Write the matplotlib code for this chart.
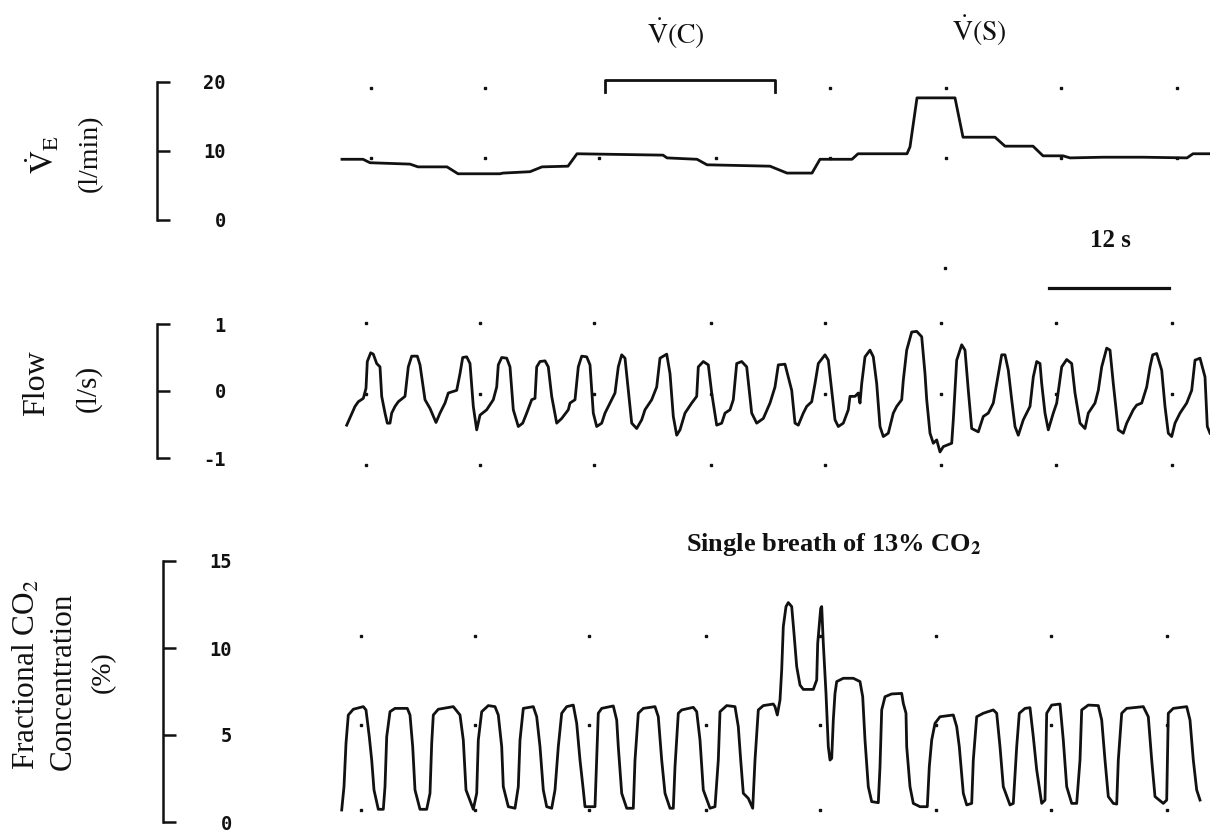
import matplotlib

matplotlib.use("Agg")
import matplotlib.pyplot as plt  # noqa: E402

plt.rcParams["font.family"] = ["Liberation Serif", "DejaVu Serif"]
plt.rcParams["mathtext.fontset"] = "stix"

INK = "#111111"
TICK_FONT = {"family": "DejaVu Sans Mono", "weight": "bold", "size": 13.5}

# Minute ventilation, l/min (time in s)
ve_t = [0.2, 2.3, 3.0, 7.0, 7.8, 10.7, 11.8, 16.0, 16.3, 19.0, 20.2, 22.8, 23.7,
        32.3, 32.7, 35.7, 36.7, 43.0, 44.7, 47.2, 48.0, 51.2, 51.8, 56.7, 57.0,
        57.7, 61.5, 62.3, 65.5, 66.5, 69.3, 70.3, 72.3, 73.0, 76.3, 80.3, 84.7,
        85.3, 87.0]
ve_val = [8.8, 8.8, 8.3, 8.1, 7.7, 7.7, 6.7, 6.7, 6.8, 7.0, 7.7, 7.8, 9.6,
          9.4, 9.0, 8.8, 8.0, 7.8, 6.8, 6.8, 8.8, 8.8, 9.6, 9.6, 10.6,
          17.7, 17.7, 12.0, 12.0, 10.7, 10.7, 9.3, 9.3, 9.0, 9.1, 9.1, 9.0,
          9.6, 9.6]

# Flow, l/s
flow_t = [0.67, 1.5, 1.83, 2.33, 2.6, 2.73, 3.07, 3.33, 3.67, 4.0, 4.17, 4.5, 4.73,
          5.0, 5.17, 5.5, 5.83, 6.5, 6.83, 7.17, 7.73, 8.0, 8.27, 8.5, 9.0, 9.6,
          10.0, 10.5, 10.83, 11.67, 12.0, 12.27, 12.67, 13.0, 13.33, 13.67, 14.0,
          14.67, 15.33, 15.67, 15.83, 16.17, 16.67, 17.0, 17.33, 17.83, 18.27,
          18.67, 19.17, 19.5, 19.67, 20.0, 20.5, 20.83, 21.17, 21.67, 22.17,
          22.83, 23.0, 23.5, 23.83, 24.17, 24.67, 25.0, 25.33, 25.67, 26.17, 26.5,
          27.17, 27.5, 27.83, 28.17, 28.5, 28.83, 29.17, 29.67, 30.17, 30.5,
          31.17, 31.67, 32.0, 32.67, 33.0, 33.33, 33.67, 34.0, 34.5, 35.17,
          35.67, 35.83, 36.33, 36.83, 37.17, 37.67, 38.17, 38.5, 39.0, 39.33,
          39.67, 40.17, 40.67, 41.17, 41.67, 42.33, 43.0, 43.5, 43.83, 44.5,
          44.83, 45.17, 45.5, 45.83, 46.33, 46.67, 47.17, 47.5, 47.83, 48.5,
          48.83, 49.17, 49.5, 49.83, 50.33, 50.83, 51.0, 51.5, 51.83, 52.0,
          52.17, 52.5, 53.0, 53.33, 53.67, 54.0, 54.33, 54.83, 55.33, 55.67,
          56.17, 56.33, 56.67, 57.17, 57.67, 58.17, 58.5, 58.67, 59.0, 59.33,
          59.67, 60.0, 60.33, 61.17, 61.33, 61.67, 62.17, 62.5, 62.83, 63.17,
          63.83, 64.33, 64.83, 65.33, 65.67, 66.17, 66.5, 66.83, 67.17, 67.5,
          67.83, 68.33, 69.0, 69.33, 69.67, 70.0, 70.17, 70.5, 70.83, 71.33,
          71.67, 72.17, 72.67, 73.17, 73.5, 74.0, 74.5, 74.83, 75.5, 75.83,
          76.17, 76.67, 77.0, 77.33, 77.83, 78.33, 78.67, 79.33, 79.67, 80.17,
          80.67, 81.0, 81.27, 81.67, 82.17, 82.5, 82.83, 83.17, 83.5, 84.0,
          84.67, 85.17, 85.5, 86.0, 86.5, 86.73, 87.0]
flow_val = [-0.51, -0.23, -0.16, -0.11, 0.04, 0.44, 0.57, 0.55, 0.41, 0.36, -0.08,
            -0.33, -0.48, -0.48, -0.33, -0.23, -0.16, -0.08, 0.36, 0.52, 0.52,
            0.39, 0.11, -0.13, -0.26, -0.47, -0.33, -0.18, -0.03, 0.01, 0.26,
            0.50, 0.51, 0.41, -0.23, -0.58, -0.36, -0.28, -0.13, 0.06, 0.39,
            0.50, 0.49, 0.36, -0.28, -0.53, -0.48, -0.33, -0.13, -0.11, 0.36,
            0.44, 0.45, 0.36, -0.08, -0.48, -0.41, -0.28, -0.18, -0.13, 0.36,
            0.52, 0.51, 0.39, -0.33, -0.53, -0.48, -0.33, -0.13, -0.03, 0.36,
            0.54, 0.49, 0.01, -0.48, -0.56, -0.43, -0.28, -0.13, 0.06, 0.49,
            0.55, 0.26, -0.38, -0.66, -0.58, -0.33, -0.18, -0.08, 0.36, 0.44,
            0.39, -0.03, -0.51, -0.48, -0.33, -0.28, -0.13, 0.41, 0.44, 0.36,
            -0.33, -0.48, -0.41, -0.18, 0.06, 0.39, 0.40, 0.21, 0.01, -0.48,
            -0.51, -0.33, -0.23, -0.16, 0.11, 0.41, 0.54, 0.46, 0.01, -0.43,
            -0.53, -0.48, -0.28, -0.08, -0.08, -0.03, -0.18, 0.11, 0.51, 0.61,
            0.51, 0.11, -0.53, -0.68, -0.63, -0.33, -0.23, -0.13, 0.16, 0.61,
            0.88, 0.89, 0.81, 0.26, -0.13, -0.63, -0.78, -0.73, -0.91, -0.83,
            -0.78, -0.43, 0.46, 0.69, 0.61, 0.01, -0.56, -0.61, -0.38, -0.33,
            -0.18, 0.11, 0.54, 0.54, 0.31, -0.13, -0.53, -0.66, -0.43, -0.23,
            0.21, 0.44, 0.41, 0.11, -0.33, -0.58, -0.33, -0.18, 0.36, 0.47,
            0.41, -0.03, -0.48, -0.56, -0.33, -0.18, 0.01, 0.36, 0.64, 0.61,
            0.11, -0.58, -0.63, -0.48, -0.28, -0.21, -0.18, 0.06, 0.36, 0.54,
            0.56, 0.31, -0.23, -0.63, -0.68, -0.48, -0.33, -0.18, 0.01, 0.46,
            0.49, 0.21, -0.53, -0.63]

# Fractional CO2 concentration, %
co2_t = [0.17, 0.4, 0.6, 0.83, 1.33, 2.33, 2.6, 2.93, 3.17, 3.4, 3.83, 4.33, 4.5,
         4.67, 5.0, 5.5, 6.73, 7.0, 7.27, 7.5, 8.0, 8.67, 9.0, 9.17, 9.33, 9.83,
         11.33, 12.0, 12.33, 12.6, 13.33, 13.67, 13.83, 14.17, 14.83, 15.5,
         15.83, 16.17, 16.33, 16.83, 17.5, 17.83, 18.0, 18.33, 19.33, 19.67,
         20.0, 20.33, 20.67, 21.17, 21.5, 21.83, 22.17, 22.67, 23.33, 23.67,
         24.0, 24.33, 24.5, 25.5, 25.67, 25.83, 26.17, 27.33, 27.67, 27.83,
         28.17, 28.67, 29.33, 29.5, 29.83, 30.33, 31.5, 31.83, 32.17, 32.5,
         33.0, 33.33, 33.5, 33.83, 34.17, 35.33, 35.67, 36.0, 36.33, 37.0,
         37.5, 37.83, 38.0, 38.67, 39.5, 39.83, 40.07, 40.33, 40.83, 41.27,
         41.5, 41.83, 42.33, 43.33, 43.5, 43.73, 44.0, 44.17, 44.33, 44.6,
         44.83, 45.17, 45.4, 45.67, 46.0, 46.33, 47.33, 47.67, 47.77, 47.93,
         48.07, 48.17, 48.33, 48.6, 48.83, 49.0, 49.17, 49.33, 49.5, 49.67,
         50.33, 51.33, 52.0, 52.27, 52.5, 52.83, 53.17, 53.83, 54.0, 54.17,
         54.5, 55.17, 56.17, 56.33, 56.6, 56.67, 57.0, 57.33, 58.0, 58.73,
         58.93, 59.17, 59.5, 60.0, 61.33, 61.67, 61.93, 62.33, 62.67, 63.17,
         63.33, 63.67, 64.33, 65.33, 65.67, 66.0, 66.33, 67.0, 67.33, 67.67,
         67.93, 68.5, 69.0, 69.33, 69.67, 70.17, 70.5, 70.67, 71.17, 72.0,
         72.33, 72.67, 73.17, 73.67, 74.0, 74.17, 74.83, 75.83, 76.17, 76.5,
         76.83, 77.33, 77.67, 77.83, 78.17, 78.67, 80.33, 80.83, 81.17, 81.5,
         82.33, 82.67, 82.83, 83.33, 84.67, 85.0, 85.33, 85.67, 86.0]
co2_val = [0.69, 2.03, 4.52, 6.15, 6.48, 6.63, 6.44, 4.90, 3.56, 1.84, 0.73, 0.73,
           2.03, 4.90, 6.34, 6.53, 6.53, 6.15, 4.33, 1.84, 0.73, 0.73, 1.65, 4.52,
           6.15, 6.48, 6.63, 6.15, 4.71, 1.84, 0.73, 1.65, 4.71, 6.34, 6.69,
           6.63, 6.15, 4.33, 2.03, 0.88, 0.79, 2.03, 4.71, 6.53, 6.63, 6.05,
           4.33, 1.84, 0.88, 0.79, 1.84, 4.33, 6.25, 6.63, 6.72, 5.67, 3.56,
           1.84, 0.88, 0.88, 3.56, 6.25, 6.53, 6.67, 5.86, 4.33, 1.65, 0.79,
           0.79, 3.56, 6.25, 6.53, 6.63, 6.05, 3.56, 1.65, 0.79, 0.79, 3.18,
           6.25, 6.44, 6.59, 6.34, 4.71, 1.84, 0.79, 0.88, 3.56, 6.34, 6.69,
           6.63, 5.48, 3.56, 1.65, 1.36, 0.79, 3.56, 6.44, 6.69, 6.78, 6.63,
           6.15, 7.01, 8.74, 11.23, 12.38, 12.61, 12.38, 10.84, 8.93, 7.87,
           7.62, 7.62, 8.16, 10.27, 11.32, 12.28, 12.38, 10.27, 7.39, 4.33,
           3.56, 3.66, 5.86, 7.39, 8.07, 8.26, 8.26, 8.07, 7.20, 4.71, 2.03,
           1.17, 1.11, 3.18, 6.44, 7.20, 7.36, 7.39, 6.82, 6.25, 4.33, 2.03,
           1.07, 0.88, 0.88, 3.18, 4.71, 5.67, 6.05, 6.15, 5.48, 4.33, 1.65,
           0.98, 1.07, 3.56, 6.05, 6.25, 6.44, 6.25, 4.33, 2.03, 0.98, 1.07,
           4.33, 6.25, 6.53, 6.57, 4.90, 2.99, 1.07, 1.26, 6.25, 6.72, 6.78,
           4.71, 2.03, 1.07, 1.07, 3.56, 6.44, 6.72, 6.69, 5.86, 3.56, 1.46,
           1.07, 1.03, 3.56, 6.25, 6.53, 6.63, 6.05, 3.56, 1.46, 1.07, 1.26,
           6.25, 6.53, 6.63, 5.86, 3.56, 1.84, 1.26]

# recorder grid dots (time, s)
grid_t = [3.1, 14.5, 25.9, 37.6, 49.0, 60.6, 72.1, 83.7]
ve_top_dots_t = [3.1, 14.5, 49.0, 60.6, 72.1, 83.7]
ve_dot_rows = [19.1, 9.0]
flow_dot_rows = [1.01, -0.04, -1.1]
co2_dot_rows = [10.7, 5.6, 0.7]

ve_ticks = [0, 10, 20]
flow_ticks = [-1, 0, 1]
co2_ticks = [0, 5, 10, 15]

W, H = 1210, 836
T0, PX_PER_S = 340, 10.0
XLIM = ((0 - T0) / PX_PER_S, (W - T0) / PX_PER_S)


def _panel(fig, top_px, bottom_px, bar_px, ylim, ticks):
    ax = fig.add_axes([0, 1 - bottom_px / H, 1, (bottom_px - top_px) / H])
    ax.set_xlim(*XLIM)
    ax.set_ylim(*ylim)
    for name in ("top", "bottom", "left"):
        ax.spines[name].set_visible(False)
    ax.spines["right"].set_position(("data", (bar_px - T0) / PX_PER_S))
    ax.spines["right"].set_linewidth(1.8)
    ax.spines["right"].set_color(INK)
    ax.set_xticks([])
    ax.yaxis.set_ticks_position("right")
    ax.set_yticks(ticks)
    ax.set_yticklabels([str(v) for v in ticks], fontdict=TICK_FONT)
    ax.tick_params(axis="y", direction="out", length=9.5, width=1.8,
                   color=INK, pad=40, labelcolor=INK)
    for lab in ax.get_yticklabels():
        lab.set_horizontalalignment("right")
    ax.patch.set_alpha(0)
    return ax


def _dots(ax, xs, ys, shift=0.0):
    for y in ys:
        ax.plot([x + shift for x in xs], [y] * len(xs), ls="none", marker="s",
                ms=1.7, color=INK, clip_on=False)


fig = plt.figure(figsize=(W / 100, H / 100), dpi=100)

# --- ventilation
ax1 = _panel(fig, 82, 220, 157, (0, 20), ve_ticks)
_dots(ax1, ve_top_dots_t, ve_dot_rows[:1])
_dots(ax1, grid_t, ve_dot_rows[1:])
_dots(ax1, [60.5], [-7.0])
ax1.plot(ve_t, ve_val, color=INK, lw=2.0, clip_on=False)
ax1.plot([26.5, 26.5, 43.5, 43.5], [18.5, 20.3, 20.3, 18.5], color=INK,
         lw=2.0, clip_on=False)
ax1.text(33.6, 27.0, r"$\dot{\mathrm{V}}\mathrm{(C)}$", ha="center",
         va="center", fontsize=20, color=INK)
ax1.text(63.9, 27.4, r"$\dot{\mathrm{V}}\mathrm{(S)}$", ha="center",
         va="center", fontsize=20, color=INK)

# --- flow
ax2 = _panel(fig, 324, 458, 157, (-1, 1), flow_ticks)
_dots(ax2, grid_t, flow_dot_rows, shift=-0.5)
ax2.plot(flow_t, flow_val, color=INK, lw=2.0, clip_on=False)
ax2.plot([70.9, 82.9], [1.54, 1.54], color=INK, lw=2.3, clip_on=False)
ax2.text(77.0, 2.25, "12 s", ha="center", va="center", fontsize=18,
         fontweight="bold", color=INK)

# --- CO2
ax3 = _panel(fig, 561, 822, 163, (0, 15), co2_ticks)
_dots(ax3, grid_t, co2_dot_rows, shift=-1.0)
ax3.plot(co2_t, co2_val, color=INK, lw=2.0, clip_on=False)
ax3.text(64.2, 15.6, r"Single breath of 13% CO$_\mathbf{2}$", ha="right",
         va="baseline", fontsize=19, fontweight="bold", color=INK)

# --- left-hand labels
lab = dict(rotation=90, ha="center", va="center", color=INK)
fig.text(43 / W, 1 - 155 / H, r"$\dot{\mathrm{V}}_{\mathrm{E}}$", fontsize=23, **lab)
fig.text(90 / W, 1 - 153 / H, "(l/min)", fontsize=20, **lab)
fig.text(37 / W, 1 - 383 / H, "Flow", fontsize=23, **lab)
fig.text(88 / W, 1 - 388 / H, "(l/s)", fontsize=21, **lab)
fig.text(27 / W, 1 - 675 / H, r"Fractional CO$_2$", fontsize=22.5, **lab)
fig.text(63 / W, 1 - 681 / H, "Concentration", fontsize=22.5, **lab)
fig.text(103 / W, 1 - 672 / H, "(%)", fontsize=20, **lab)

fig.savefig("out.png", dpi=100)
plt.close(fig)
